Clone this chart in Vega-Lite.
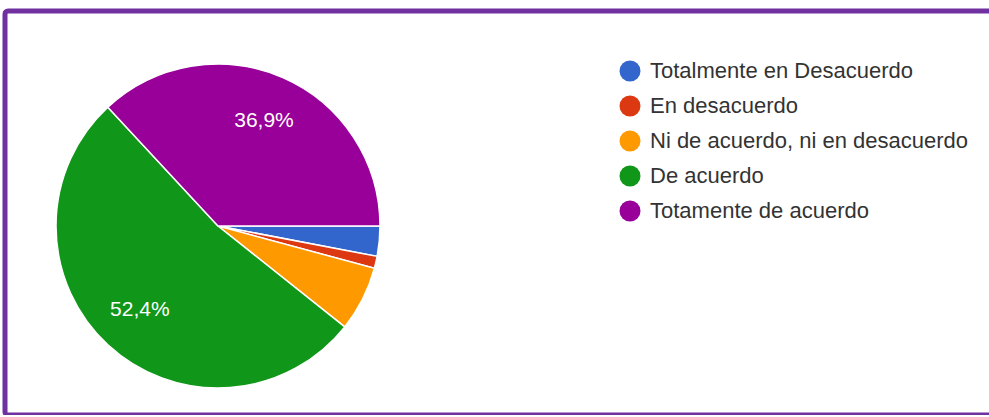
{
  "$schema": "https://vega.github.io/schema/vega-lite/v6.json",
  "width": 1000,
  "height": 404,
  "autosize": {"type": "none"},
  "padding": {"left": 5, "top": 11, "right": 0, "bottom": 0},
  "background": "#ffffff",
  "view": {"stroke": "#7030a0", "strokeWidth": 5, "cornerRadius": 3, "fill": "#ffffff"},
  "config": {
    "font": "Liberation Sans"
  },
  "data": {
    "values": [
      {"respuesta": "Totalmente en Desacuerdo", "pct": 3.0, "orden": 1, "label": "3%"},
      {"respuesta": "En desacuerdo", "pct": 1.2, "orden": 2, "label": "1,2%"},
      {"respuesta": "Ni de acuerdo, ni en desacuerdo", "pct": 6.5, "orden": 3, "label": "6,5%"},
      {"respuesta": "De acuerdo", "pct": 52.4, "orden": 4, "label": "52,4%"},
      {"respuesta": "Totamente de acuerdo", "pct": 36.9, "orden": 5, "label": "36,9%"}
    ]
  },
  "encoding": {
    "theta": {"field": "pct", "type": "quantitative", "stack": true, "scale": {"range": [1.5708, 7.854]}},
    "order": {"field": "orden", "type": "quantitative"},
    "color": {
      "field": "respuesta",
      "type": "nominal",
      "scale": {
        "domain": ["Totalmente en Desacuerdo", "En desacuerdo", "Ni de acuerdo, ni en desacuerdo", "De acuerdo", "Totamente de acuerdo"],
        "range": ["#3366cc", "#dc3912", "#ff9900", "#109618", "#990099"]
      },
      "legend": {
        "orient": "none",
        "legendX": 614,
        "legendY": 49,
        "title": null,
        "symbolType": "circle",
        "symbolSize": 441,
        "symbolStrokeWidth": 0,
        "labelFontSize": 22,
        "labelFont": "Liberation Sans",
        "labelColor": "#333333",
        "labelOffset": 9,
        "rowPadding": 13,
        "padding": 0,
        "labelLimit": 400
      }
    }
  },
  "layer": [
    {
      "mark": {"type": "arc", "outerRadius": 162, "stroke": "#ffffff", "strokeWidth": 1.5, "x": {"expr": "width*0.213"}, "y": {"expr": "height*0.5322"}}
    },
    {
      "mark": {"type": "text", "radius": 115, "fontSize": 21, "font": "Liberation Sans", "x": {"expr": "width*0.213"}, "y": {"expr": "height*0.5322"}},
      "encoding": {
        "text": {"condition": {"test": "datum.pct > 10", "field": "label"}, "value": ""},
        "color": {"value": "#ffffff"}
      }
    }
  ]
}
